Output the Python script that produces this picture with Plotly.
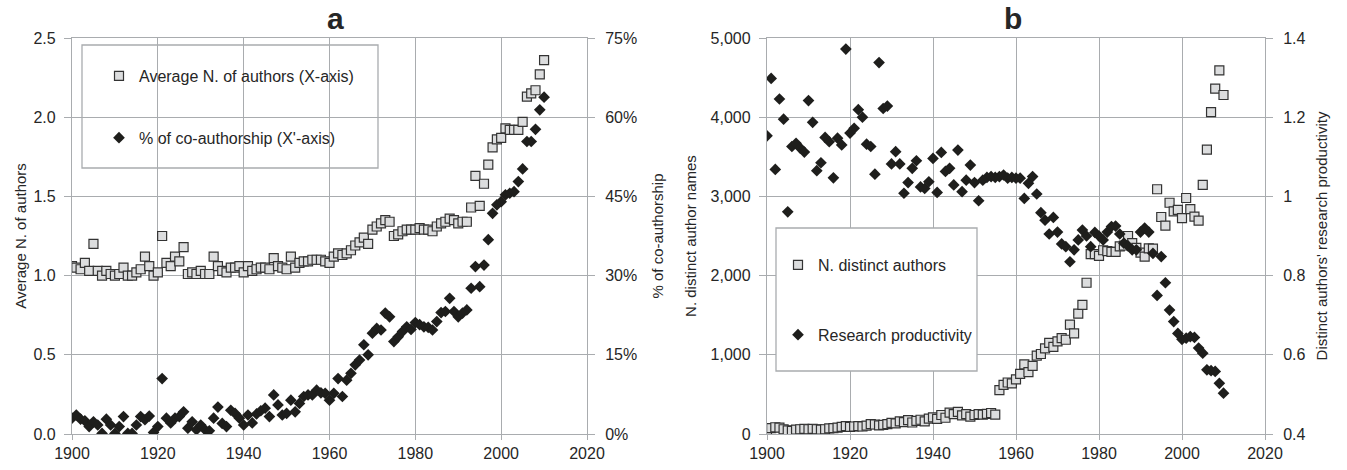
import plotly.graph_objects as go

years = list(range(1900, 2011))

avg_authors = [
    1.06, 1.05, 1.04, 1.08, 1.03, 1.20, 1.03, 1.00, 1.03, 1.01,
    1.00, 1.01, 1.05, 1.00, 1.00, 1.02, 1.04, 1.12, 1.06, 1.00,
    1.02, 1.25, 1.08, 1.06, 1.12, 1.09, 1.18, 1.01, 1.02, 1.01,
    1.03, 1.01, 1.01, 1.12, 1.06, 1.03, 1.02, 1.05, 1.05, 1.06,
    1.02, 1.06, 1.03, 1.04, 1.05, 1.05, 1.04, 1.11, 1.06, 1.05,
    1.04, 1.12, 1.05, 1.08, 1.09, 1.09, 1.10, 1.10, 1.10, 1.09,
    1.08, 1.12, 1.14, 1.13, 1.14, 1.16, 1.19, 1.21, 1.24, 1.20,
    1.29, 1.31, 1.33, 1.35, 1.34, 1.25, 1.26, 1.28, 1.29, 1.29,
    1.29, 1.30, 1.29, 1.29, 1.28, 1.31, 1.33, 1.34, 1.36, 1.35,
    1.33, 1.34, 1.34, 1.43, 1.63, 1.44, 1.58, 1.70, 1.81, 1.86,
    1.87, 1.93, 1.92, 1.92, 1.92, 1.97, 2.13, 2.15, 2.17, 2.27, 2.36,
]

coauthorship_pct = [
    3.0, 3.6, 2.8, 2.5, 1.4, 2.3, 1.7, 0.1, 2.8, 1.7,
    0.1, 1.4, 3.3, 0.1, 0.1, 1.7, 3.3, 2.7, 3.4, 0.3,
    1.4, 10.5, 3.0, 2.1, 3.0, 3.3, 4.2, 1.1, 2.3, 0.8,
    1.7, 0.8, 0.6, 3.0, 5.1, 2.0, 1.4, 4.5, 3.9, 3.0,
    1.7, 3.6, 2.1, 3.8, 4.4, 4.9, 3.3, 7.4, 5.5, 3.6,
    3.9, 6.4, 4.2, 5.8, 7.1, 7.4, 7.4, 8.3, 7.8, 7.7,
    6.4, 7.7, 10.5, 7.1, 10.2, 11.5, 13.1, 14.0, 16.9, 15.0,
    19.1, 20.0, 19.7, 22.9, 22.2, 17.5, 18.4, 19.4, 20.3, 19.8,
    21.1, 20.7, 20.3, 20.2, 19.7, 21.3, 23.0, 23.2, 25.7, 23.2,
    22.2, 22.9, 23.5, 27.6, 31.7, 27.9, 32.0, 36.8, 41.8, 43.4,
    44.0, 45.3, 45.6, 45.9, 47.8, 50.2, 55.4, 55.4, 57.7, 61.4, 63.8,
]

distinct_authors = [
    45, 75, 85, 80, 60, 45, 40, 55, 60, 65,
    60, 65, 60, 55, 60, 70, 75, 80, 90, 100,
    90, 95, 100, 95, 105, 125, 120, 110, 115, 125,
    140, 135, 160, 150, 175, 145, 165, 180, 160, 195,
    210, 190, 240, 205, 270, 250, 280, 235, 250, 220,
    240, 250, 245, 255, 265, 245, 555, 620, 650, 640,
    690, 760, 880, 780, 860, 990, 1010, 1080, 1150, 1100,
    1170, 1210, 1190, 1380, 1270, 1520, 1630, 1910, 2270, 2270,
    2250, 2320, 2310, 2300, 2300, 2370, 2380, 2500, 2410, 2350,
    2290, 2240, 2345, 2340, 3090, 2740, 2630, 2920, 2810, 2830,
    2725, 2980, 2840, 2745, 2695, 3145, 3590, 4065, 4360, 4590, 4280,
]

productivity = [
    1.153, 1.298, 1.068, 1.246, 1.195, 0.961, 1.126, 1.134, 1.122, 1.112,
    1.242, 1.187, 1.065, 1.085, 1.149, 1.138, 1.047, 1.147, 1.130, 1.372,
    1.160, 1.172, 1.219, 1.200, 1.132, 1.126, 1.056, 1.338, 1.222, 1.228,
    1.082, 1.113, 1.082, 1.008, 1.035, 1.071, 1.090, 1.024, 1.020, 1.037,
    1.096, 1.010, 1.111, 1.063, 1.071, 1.029, 1.117, 1.012, 1.041, 1.079,
    1.035, 0.989, 1.041, 1.048, 1.050, 1.048, 1.050, 1.054, 1.046, 1.048,
    1.046, 1.046, 0.995, 1.033, 1.050, 1.006, 0.959, 0.940, 0.905, 0.947,
    0.910, 0.880, 0.873, 0.835, 0.865, 0.890, 0.915, 0.900, 0.873, 0.909,
    0.900, 0.890, 0.910, 0.924, 0.925, 0.905, 0.882, 0.875, 0.865, 0.865,
    0.910, 0.920, 0.910, 0.856, 0.750, 0.848, 0.782, 0.713, 0.684, 0.654,
    0.639, 0.642, 0.646, 0.644, 0.617, 0.604, 0.562, 0.560, 0.558, 0.528, 0.503,
]

W, H = 1347, 470
FONT = "Liberation Sans, Arial, sans-serif"
GRID = "#A9ACAF"
TXT = "#262626"
SQ_FILL = "#DCDDDE"
SQ_LINE = "#333333"
DIA = "#1E1E1C"


def px(x):
    return x / W


def py(y):
    return 1 - y / H


xa_dom = [px(72), px(587)]
xb_dom = [px(767), px(1265)]
y_dom = [py(434), py(38)]

fig = go.Figure()

sq_marker = dict(symbol="square", size=9, color=SQ_FILL, line=dict(color=SQ_LINE, width=1.2))
dia_marker = dict(symbol="diamond", size=9, color=DIA, line=dict(width=0))

fig.add_trace(go.Scatter(x=years, y=avg_authors, mode="markers", marker=sq_marker,
                         name="Average N. of authors (X-axis)", xaxis="x", yaxis="y",
                         legend="legend", legendgroup="a1"))
fig.add_trace(go.Scatter(x=years, y=coauthorship_pct, mode="markers", marker=dia_marker,
                         name="% of co-authorship (X'-axis)", xaxis="x", yaxis="y2",
                         legend="legend", legendgroup="a2"))
fig.add_trace(go.Scatter(x=years, y=distinct_authors, mode="markers", marker=sq_marker,
                         name="N. distinct authors", xaxis="x2", yaxis="y3",
                         legend="legend2", legendgroup="b1"))
fig.add_trace(go.Scatter(x=years, y=productivity, mode="markers", marker=dia_marker,
                         name="Research productivity", xaxis="x2", yaxis="y4",
                         legend="legend2", legendgroup="b2"))

tickfont = dict(family=FONT, size=16, color=TXT)
titlefont = dict(family=FONT, size=15, color=TXT)
legfont = dict(family=FONT, size=16, color=TXT)

common_x = dict(range=[1900, 2020], dtick=20, tick0=1900, showgrid=True, gridcolor=GRID,
                gridwidth=1.3, showline=True, linecolor=GRID, linewidth=1.3, mirror=True,
                ticks="outside", ticklen=5, tickcolor=GRID, tickfont=tickfont, zeroline=False,
                automargin=False)

common_yl = dict(domain=y_dom, showgrid=True, gridcolor=GRID, gridwidth=1.3, showline=True,
                 linecolor=GRID, linewidth=1.3, mirror=True, ticks="outside", ticklen=7,
                 ticklabelstandoff=5,
                 tickcolor=GRID, tickfont=tickfont, zeroline=False, automargin=False)

common_yr = dict(side="right", showgrid=False, showline=False, ticks="outside", ticklen=7,
                 ticklabelstandoff=7,
                 tickcolor=GRID, tickfont=tickfont, zeroline=False, automargin=False)

fig.update_layout(
    template="none",
    width=W, height=H,
    margin=dict(l=0, r=0, t=0, b=0),
    paper_bgcolor="white", plot_bgcolor="white",
    xaxis=dict(domain=xa_dom, anchor="y", **common_x),
    xaxis2=dict(domain=xb_dom, anchor="y3", **common_x),
    yaxis=dict(anchor="x", range=[0, 2.5], dtick=0.5, tickformat=".1f",
               title=dict(text="Average N. of authors", font=titlefont, standoff=3),
               **common_yl),
    yaxis2=dict(anchor="x", overlaying="y", range=[0, 75], dtick=15, ticksuffix="%",
                title=dict(text="% of co-authorship", font=titlefont, standoff=16),
                **common_yr),
    yaxis3=dict(anchor="x2", range=[0, 5000], dtick=1000, tickformat=",d",
                title=dict(text="N. distinct author names", font=titlefont, standoff=10),
                **common_yl),
    yaxis4=dict(anchor="x2", overlaying="y3", range=[0.4, 1.4],
                tickvals=[0.4, 0.6, 0.8, 1.0, 1.2, 1.4],
                ticktext=["0.4", "0.6", "0.8", "1", "1.2", "1.4"],
                title=dict(text="Distinct authors' research productivity", font=titlefont,
                           standoff=11),
                **common_yr),
    legend=dict(x=px(99), y=py(59), xanchor="left", yanchor="top",
                bgcolor="rgba(0,0,0,0)", borderwidth=0, tracegroupgap=38,
                font=legfont, itemwidth=30),
    legend2=dict(x=px(778), y=py(248), xanchor="left", yanchor="top",
                 bgcolor="rgba(0,0,0,0)", borderwidth=0, tracegroupgap=46,
                 font=legfont, itemwidth=30),
    shapes=[
        dict(type="rect", xref="paper", yref="paper", x0=px(82), x1=px(378),
             y0=py(168), y1=py(45), line=dict(color=GRID, width=1.3),
             fillcolor="white", layer="below"),
        dict(type="rect", xref="paper", yref="paper", x0=px(776), x1=px(977),
             y0=py(371), y1=py(228), line=dict(color=GRID, width=1.3),
             fillcolor="white", layer="above"),
    ],
    annotations=[
        dict(text="<b>a</b>", x=px(335), y=py(37), xref="paper", yref="paper",
             xanchor="center", yanchor="bottom", showarrow=False,
             font=dict(family=FONT, size=30, color=TXT)),
        dict(text="<b>b</b>", x=px(1013), y=py(37), xref="paper", yref="paper",
             xanchor="center", yanchor="bottom", showarrow=False,
             font=dict(family=FONT, size=30, color=TXT)),
    ],
)

fig.write_html("out.html")
